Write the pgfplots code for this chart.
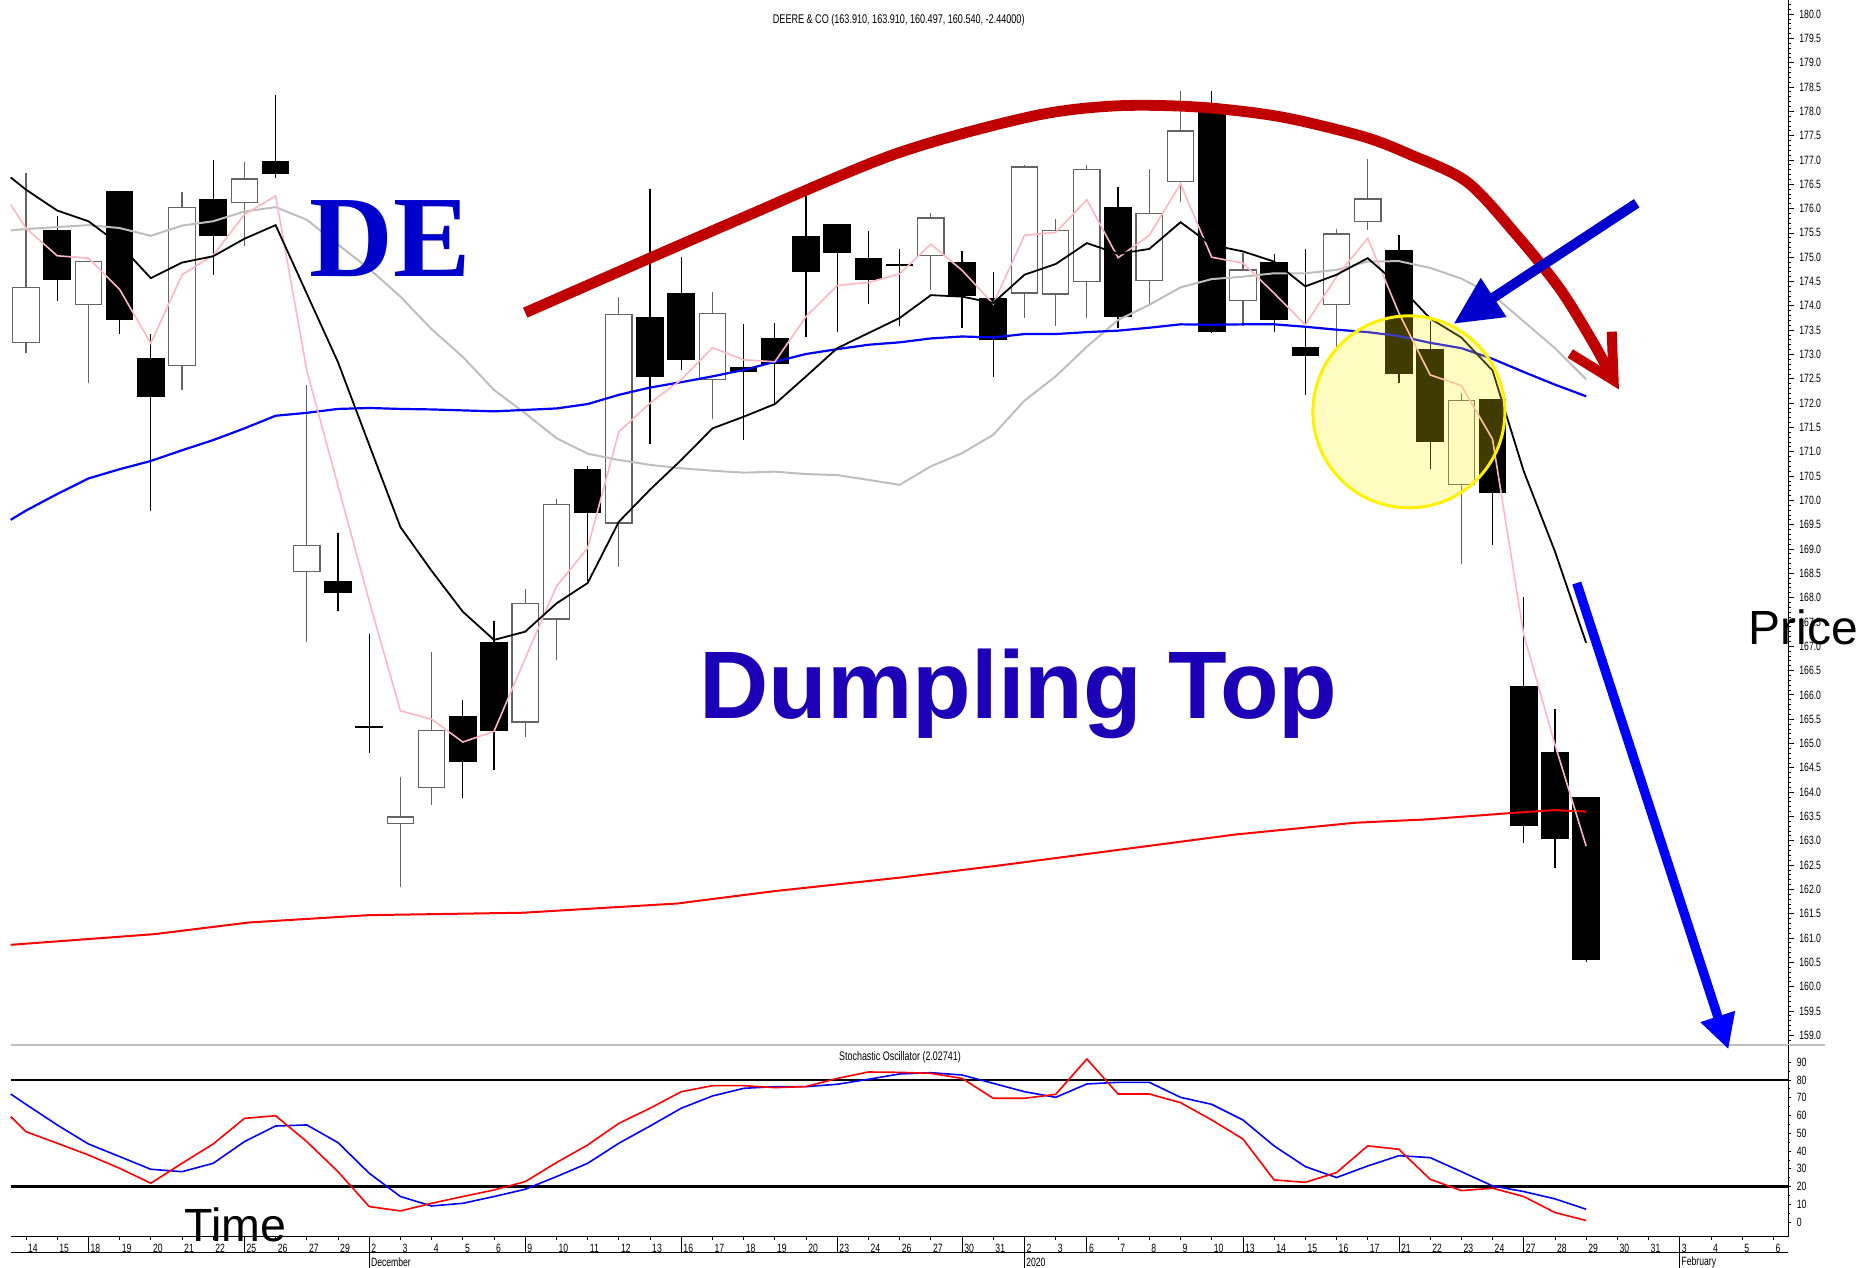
\documentclass[border=0pt]{standalone}
\usepackage{pgfplots}
\pgfplotsset{compat=1.18}
\usepackage{pgfplotstable}
\usepackage{fontspec}
\setmainfont{Liberation Sans}
\newfontfamily\cond{Liberation Sans}[FakeStretch=0.72]
\newfontfamily\tnr{Liberation Serif}
\usetikzlibrary{arrows.meta}

\definecolor{arcred}{RGB}{192,0,0}
\definecolor{deblue}{RGB}{0,0,204}
\definecolor{dumpblue}{RGB}{28,0,183}
\definecolor{mapink}{RGB}{255,182,193}
\definecolor{magray}{RGB}{190,190,190}
\definecolor{wickgray}{RGB}{100,100,100}

% up candles (white): index, open, high, low, close
\pgfplotstableread{
i o h l c
0 173.23 176.73 173.03 174.39
2 174.02 174.92 172.42 174.92
5 172.76 176.34 172.27 176.03
7 176.11 176.96 175.24 176.62
9 168.52 172.38 167.08 169.08
12 163.35 164.31 162.06 163.50
13 164.09 166.88 163.73 165.28
16 165.43 168.17 165.13 167.90
17 167.55 170.02 166.72 169.92
19 169.52 174.19 168.64 173.84
22 172.48 174.28 171.67 173.86
29 175.03 175.91 174.33 175.82
32 174.25 176.90 173.76 176.87
33 174.23 175.78 173.59 175.56
34 174.49 176.90 173.76 176.82
36 174.51 176.81 174.02 175.91
37 176.54 178.42 176.13 177.61
39 174.10 175.08 173.59 174.75
42 174.01 175.58 173.13 175.49
43 175.73 177.02 175.55 176.21
46 170.31 172.20 168.69 172.06
}\upc

% down candles (black)
\pgfplotstableread{
i o h l c
1 175.57 175.85 174.09 174.53
3 176.36 176.36 173.42 173.71
4 172.93 173.42 169.78 172.13
6 176.20 177.00 174.64 175.44
8 176.98 178.34 176.64 176.71
10 168.35 169.33 167.73 168.09
11 165.36 167.25 164.81 165.32
14 165.56 165.90 163.87 164.62
15 167.09 167.51 164.45 165.26
18 170.65 170.71 168.34 169.75
20 173.77 176.41 171.16 172.53
21 174.26 175.01 172.68 172.88
23 172.74 173.63 171.24 172.64
24 173.33 173.64 171.98 172.80
25 175.43 176.39 173.36 174.69
26 175.68 175.68 173.47 175.08
27 174.98 175.53 174.04 174.54
28 174.86 175.17 173.59 174.82
30 174.91 175.13 173.54 174.21
31 174.16 174.69 172.53 173.30
35 176.03 176.45 173.54 173.77
38 178.14 178.42 173.44 173.47
40 174.91 175.07 173.46 173.71
41 173.15 175.17 172.17 172.97
44 175.14 175.46 172.41 172.60
45 173.11 173.68 170.65 171.20
47 172.09 172.09 169.08 170.16
48 166.19 168.01 162.96 163.31
49 164.82 165.70 162.45 163.03
50 163.91 163.91 160.50 160.54
}\downc

% moving averages
\pgfplotstableread{
i pink black gray blue
-0.49 176.08 176.64 175.55 169.60
0 175.60 176.39 175.58 169.79
1 175.03 175.96 175.62 170.13
2 174.98 175.74 175.66 170.45
3 174.34 175.26 175.60 170.64
4 173.23 174.57 175.44 170.81
5 174.64 174.89 175.65 171.03
6 175.04 175.02 175.74 171.24
7 175.88 175.38 175.94 171.48
8 176.26 175.66 176.03 171.74
9 172.67 174.25 175.77 171.80
10 170.30 172.84 175.26 171.88
11 167.93 171.14 174.76 171.90
12 165.67 169.45 174.19 171.88
13 165.50 168.55 173.52 171.87
14 165.03 167.71 172.95 171.85
15 165.25 167.13 172.27 171.83
16 166.75 167.30 171.79 171.86
17 168.23 167.88 171.28 171.89
18 169.02 168.30 170.96 171.98
19 171.41 169.56 170.83 172.17
20 172.00 170.22 170.73 172.32
21 172.48 170.83 170.66 172.43
22 173.14 171.48 170.61 172.55
23 172.89 171.72 170.57 172.68
24 172.85 171.98 170.59 172.85
25 173.78 172.55 170.54 173.01
26 174.42 173.13 170.52 173.11
27 174.48 173.44 170.42 173.20
28 174.66 173.75 170.32 173.25
29 175.27 174.22 170.70 173.33
30 174.73 174.19 170.97 173.37
31 174.04 174.06 171.35 173.35
32 175.45 174.64 172.05 173.42
33 175.51 174.86 172.55 173.42
34 176.18 175.29 173.16 173.46
35 174.99 175.07 173.71 173.49
36 175.45 175.17 174.02 173.55
37 176.51 175.72 174.38 173.62
38 175.00 175.25 174.55 173.61
39 174.88 175.12 174.60 173.62
40 174.26 174.91 174.67 173.62
41 173.61 174.40 174.67 173.57
42 174.60 174.64 174.74 173.51
43 175.39 174.98 174.91 173.46
44 173.85 174.42 174.92 173.38
45 172.58 173.74 174.78 173.24
46 172.36 173.35 174.56 173.13
47 171.26 172.67 174.23 172.91
48 167.24 170.60 173.68 172.64
49 164.98 168.95 173.13 172.38
50 162.89 167.07 172.49 172.14
}\ma

% stochastic oscillator: %K (red), %D (blue)
\pgfplotstableread{
i k d
-0.49 59.4 72.1
0 50.9 66.3
1 44.4 54.7
2 37.8 44.0
3 30.3 36.9
4 21.9 29.75
5 33.1 28.4
6 44.0 33.1
7 58.4 45.3
8 59.9 54.1
9 45.3 54.7
10 28.4 44.75
11 8.75 27.5
12 6.3 14.4
13 10.6 9.1
14 14.4 10.6
15 18.1 14.4
16 22.8 18.5
17 33.5 25.6
18 43.4 33.1
19 55.6 44.4
20 64.1 54.1
21 73.4 64.1
22 76.8 71.0
23 76.8 75.3
24 75.7 76.25
25 76.3 76.25
26 80.9 77.6
27 84.5 80.4
28 84.3 83.4
29 83.75 84.1
30 80.9 82.8
31 69.7 78.1
32 69.7 73.4
33 71.9 70.25
34 91.8 77.75
35 72.1 78.7
36 72.1 78.7
37 67.25 70.25
38 57.5 66.3
39 46.8 57.5
40 23.75 42.9
41 22.4 31.25
42 27.9 25.1
43 42.9 31.6
44 41.0 37.4
45 24.1 36.3
46 17.75 28.4
47 19.1 20.4
48 14.4 17.2
49 5.4 13.1
50 0.9 7.25
}\stoch

\pgfplotsset{candle/.style={draw=none, mark=none, error bars/.cd, y dir=both, y explicit, error mark=none}}

\begin{document}
\begin{tikzpicture}
\useasboundingbox (0,0) rectangle (932pt,634pt);

\begin{axis}[
  at={(5.35pt,634pt)}, anchor=north west, scale only axis,
  width=888.65pt, height=522.5pt,
  xmin=-0.49, xmax=56.47, ymin=158.8, ymax=180.29,
  axis x line=none, axis y line*=right,
  axis line style={-, black, line width=0.5pt},
  ytick distance=0.5, minor y tick num=4,
  tick align=outside, major tick length=3pt, minor tick length=1.5pt,
  tick style={black, line width=0.4pt},
  yticklabel={\pgfmathprintnumber[fixed,fixed zerofill,precision=1,assume math mode=true]{\tick}},
  yticklabel style={font=\cond\fontsize{6}{7}\selectfont, anchor=west, inner sep=0pt, xshift=2.5pt},
  clip=false]

  % wicks
  \addplot[candle, error bar style={draw=wickgray, line width=0.6pt}]
    table[x=i, y expr={(\thisrow{h}+\thisrow{l})/2}, y error expr={(\thisrow{h}-\thisrow{l})/2}] {\upc};
  \addplot[candle, error bar style={draw=black, line width=0.6pt}]
    table[x=i, y expr={(\thisrow{h}+\thisrow{l})/2}, y error expr={(\thisrow{h}-\thisrow{l})/2}] {\downc};
  % bodies
  \addplot[candle, error bar style={draw=black, line width=13.8pt}]
    table[x=i, y expr={(\thisrow{o}+\thisrow{c})/2}, y error expr={(\thisrow{o}-\thisrow{c})/2}] {\downc};
  \addplot[candle, error bar style={draw=wickgray, line width=13.8pt}]
    table[x=i, y expr={(\thisrow{o}+\thisrow{c})/2}, y error expr={(\thisrow{c}-\thisrow{o})/2}] {\upc};
  \addplot[candle, error bar style={draw=white, line width=12.6pt}]
    table[x=i, y expr={(\thisrow{o}+\thisrow{c})/2}, y error expr={(\thisrow{c}-\thisrow{o})/2-0.025}] {\upc};

  % averages
  \addplot[red, line width=1pt] coordinates {(-0.49,160.86) (4.12,161.08) (7.16,161.32) (10.97,161.47) (15.93,161.52) (20.88,161.71) (23.93,161.96) (28.12,162.25) (31.17,162.49) (34.98,162.81) (38.78,163.13) (42.59,163.37) (44.9,163.44) (47.8,163.58) (49,163.63) (50,163.60)};
  \addplot[magray, line width=1pt] table[x=i, y=gray] {\ma};
  \addplot[blue, line width=1.1pt] table[x=i, y=blue] {\ma};
  \addplot[mapink, line width=0.8pt] table[x=i, y=pink] {\ma};
  \addplot[black, line width=0.9pt] table[x=i, y=black] {\ma};

  % separator under the price panel
  \draw[black!25, line width=0.6pt] (rel axis cs:0,0) -- ([xshift=18.5pt]rel axis cs:1,0);

  % highlight circle
  \fill[yellow, fill opacity=0.25] (axis cs:44.32,171.82) circle[radius=48pt];
  \draw[yellow, line width=1.5pt] (axis cs:44.32,171.82) circle[radius=48pt];

  % rounded top arc
  \addplot[arcred, line width=5.4pt, smooth] coordinates {(16.0,173.86) (22.46,175.67) (27.80,177.11) (32.18,177.89) (34.85,178.11) (37.52,178.09) (40.19,177.89) (42.86,177.48) (44.36,177.11) (46.18,176.55) (47.78,175.45) (49.17,174.34) (50.23,173.24) (50.88,172.47)};
  \draw[arcred, line width=5pt, line join=miter] (axis cs:49.49,173.02) -- (axis cs:50.88,172.47) -- (axis cs:50.82,173.47);

  % arrows
  \draw[deblue, line width=5pt, -{Triangle[length=24pt,width=22pt]}] (axis cs:51.62,176.11) -- (axis cs:45.75,173.63);
  \draw[blue, line width=4.7pt, -{Triangle[length=17.3pt,width=17pt]}] (axis cs:49.70,168.30) -- (axis cs:54.56,158.71);

  % texts
  \node[anchor=base, inner sep=0pt, font=\cond\fontsize{6.3}{7}\selectfont] at (axis cs:27.97,179.80) {DEERE \& CO (163.910, 163.910, 160.497, 160.540, -2.44000)};
  \node[anchor=base west, inner sep=0pt, text=deblue, font=\tnr\bfseries\fontsize{58}{60}\selectfont] at (axis cs:9.07,174.61) {DE};
  \node[anchor=base west, inner sep=0pt, text=dumpblue, font=\bfseries\fontsize{48}{50}\selectfont] at (axis cs:21.57,165.52) {Dumpling Top};
  \node[anchor=base west, inner sep=0pt, font=\fontsize{24}{26}\selectfont] at (axis cs:55.19,167.03) {Price};
\end{axis}

\begin{axis}[
  at={(5.35pt,111.5pt)}, anchor=north west, scale only axis,
  width=888.65pt, height=95.85pt,
  xmin=-0.49, xmax=56.47, ymin=-8.2, ymax=99.7,
  axis x line*=bottom, axis y line*=right,
  axis line style={-, black, line width=0.5pt},
  ytick={0,10,...,90}, minor y tick num=1,
  yticklabel={\pgfmathprintnumber[assume math mode=true]{\tick}},
  yticklabel style={font=\cond\fontsize{6}{7}\selectfont, anchor=west, inner sep=0pt, xshift=2.5pt},
  xtick={0,...,56},
  xticklabels={14,15,18,19,20,21,22,25,26,27,29,2,3,4,5,6,9,10,11,12,13,16,17,18,19,20,23,24,26,27,30,31,2,3,6,7,8,9,10,13,14,15,16,17,21,22,23,24,27,28,29,30,31,3,4,5,6},
  xticklabel style={font=\cond\fontsize{6}{7}\selectfont, anchor=base west, inner sep=0pt, xshift=0.9pt, yshift=-6.3pt},
  tick align=outside, major tick length=1.7pt, minor tick length=1pt,
  tick style={black, line width=0.4pt},
  clip=false]

  \addplot[black, line width=1.1pt] coordinates {(-0.49,80) (56.47,80)};
  \addplot[black, line width=1.1pt] coordinates {(-0.49,20) (56.47,20)};
  \addplot[blue, line width=0.8pt] table[x=i, y=d] {\stoch};
  \addplot[red, line width=0.8pt] table[x=i, y=k] {\stoch};

  % date band
  \draw[black, line width=0.5pt] ([yshift=-8.15pt]rel axis cs:0,0) -- ([yshift=-8.15pt]rel axis cs:1,0);
  \pgfplotsinvokeforeach{2,7,16,21,26,30,34,39,44,48}{
    \draw[black, line width=0.4pt] (axis cs:#1,-8.2) -- ([yshift=-8.15pt]axis cs:#1,-8.2);
  }
  \pgfplotsinvokeforeach{11,32,53}{
    \draw[black, line width=0.4pt] (axis cs:#1,-8.2) -- ([yshift=-15.7pt]axis cs:#1,-8.2);
  }
  \node[anchor=west, inner sep=0pt, font=\cond\fontsize{6}{7}\selectfont] at ([xshift=0.7pt,yshift=-12.65pt]axis cs:11,-8.2) {December};
  \node[anchor=west, inner sep=0pt, font=\cond\fontsize{6}{7}\selectfont] at ([xshift=0.7pt,yshift=-12.65pt]axis cs:32,-8.2) {2020};
  \node[anchor=west, inner sep=0pt, font=\cond\fontsize{6}{7}\selectfont] at ([xshift=0.7pt,yshift=-12.65pt]axis cs:53,-8.2) {February};

  \node[anchor=center, inner sep=0pt, font=\cond\fontsize{6.2}{7}\selectfont] at (axis cs:28.01,92.9) {Stochastic Oscillator (2.02741)};
  \node[anchor=base west, inner sep=0pt, font=\fontsize{23.3}{25}\selectfont] at (axis cs:5.06,-10.9) {Time};
\end{axis}
\end{tikzpicture}
\end{document}
